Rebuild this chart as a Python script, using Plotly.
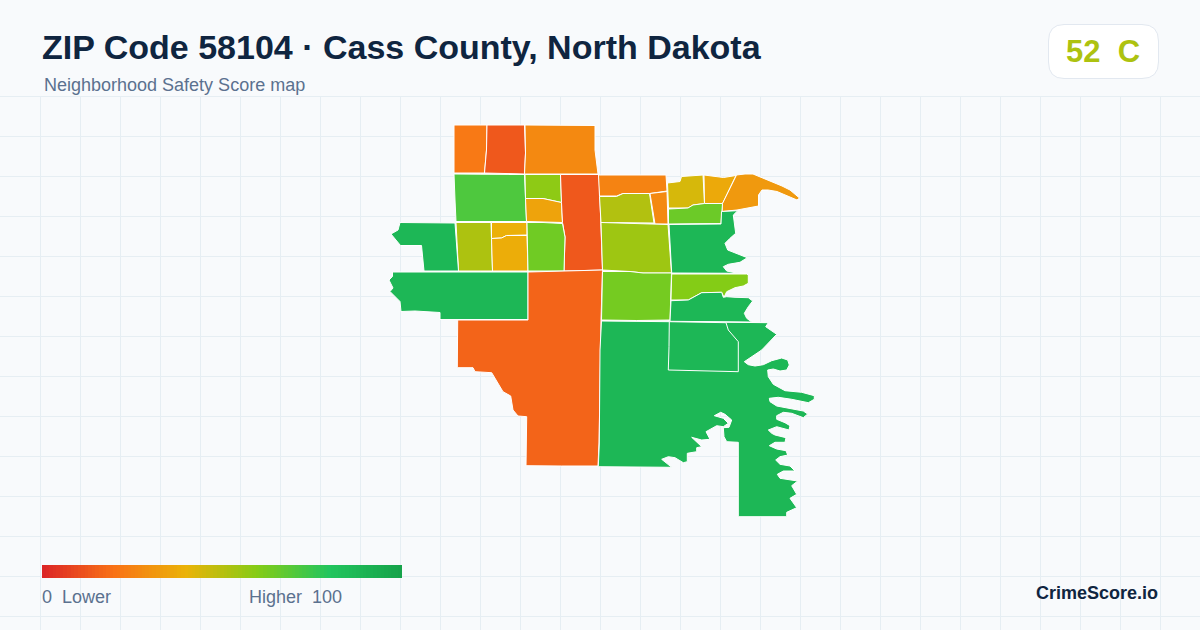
import plotly.graph_objects as go

TITLE = "ZIP Code 58104 · Cass County, North Dakota"
SUBTITLE = "Neighborhood Safety Score map"
OVERALL_SCORE = 52
OVERALL_GRADE = "C"
BRAND = "CrimeScore.io"
LEGEND_LOW = "0  Lower"
LEGEND_HIGH = "Higher  100"

# colour scale of the score, 0..100
SCALE_POS = [0, 20, 40, 60, 80, 100]
SCALE_RGB = [(220, 38, 38), (249, 115, 22), (234, 179, 8), (132, 204, 22), (34, 197, 94), (22, 163, 74)]

# map geometry: block group outlines in map units, with their scores
nw_x = [454, 487, 486.5, 484.5, 454]
nw_y = [125, 125, 150, 173, 173]
nw_score = 22

n2_x = [487, 524.5, 525.5, 524.5, 505, 484.5, 486.5]
n2_y = [125, 125, 153, 174, 173.5, 173, 150]
n2_score = 13

n3_x = [525, 543, 595, 595, 598, 524.5, 525.5]
n3_y = [125, 125, 125.5, 150, 174, 174, 153]
n3_score = 27

w1_x = [454, 524.5, 526.5, 456, 455]
w1_y = [174, 174.5, 221.5, 221.5, 200]
w1_score = 71

c1_x = [525, 560.5, 561.5, 543, 525.5]
c1_y = [174.5, 174.5, 202.5, 198.5, 198.5]
c1_score = 58

c2_x = [525.5, 543, 561.5, 562.5, 526.5]
c2_y = [198.5, 198.5, 202.5, 222.5, 221.5]
c2_score = 35

c3_x = [560.5, 599, 600, 601, 602.5, 585, 564, 565, 562.5, 561.5]
c3_y = [174.5, 174.5, 200, 230, 270, 270.5, 271, 237, 222.5, 202.5]
c3_score = 13

w2_x = [456, 491, 492.5, 458.5]
w2_y = [222.5, 222.5, 271, 271]
w2_score = 52

w3_x = [491.5, 527, 527, 506.5, 501.5, 491.5]
w3_y = [222.5, 222.5, 235, 235.5, 238, 238.5]
w3_score = 39

w4_x = [491.5, 501.5, 506.5, 527, 528, 492.5]
w4_y = [238.5, 238, 235.5, 235.5, 271, 271]
w4_score = 38

w5_x = [527, 543, 562.5, 565, 564, 528]
w5_y = [222.5, 222.5, 223.5, 237, 271, 271]
w5_score = 64

w6_x = [400, 426.5, 455, 458.5, 424, 421.5, 400.5, 391, 398]
w6_y = [222.5, 222.5, 223, 271, 271, 245.5, 245.5, 234, 230]
w6_score = 88

w7_x = [392.5, 528, 528, 440, 440, 415, 401, 400, 390, 393, 389, 392.5]
w7_y = [272, 272, 319.5, 319.5, 312.5, 311, 311.5, 301.5, 291.5, 288, 280, 276.5]
w7_score = 88

s1_x = [528, 583, 602.5, 601, 600.7, 599, 598, 561.7, 526, 526.7, 518, 513, 510.7, 503, 491.7, 475, 473, 457.3, 457.3, 457.7, 528]
s1_y = [272, 271, 270, 320, 350, 443, 466, 466, 465.7, 416.7, 416, 410, 396, 391.7, 372.7, 371.7, 367.7, 367.7, 343, 320, 320]
s1_score = 16

e1_x = [598.5, 666, 667, 650, 623, 616.5, 599.5]
e1_y = [175, 175, 191, 193.5, 193.5, 196, 196]
e1_score = 25

e2_x = [599.5, 616.5, 623, 649.5, 654, 601]
e2_y = [196.5, 196.5, 193.5, 193.5, 223, 222.5]
e2_score = 51

e3_x = [650, 667, 668, 655]
e3_y = [193.5, 191.5, 224, 224]
e3_score = 27

e4_x = [601, 654, 668, 671.5, 643, 630, 602.5]
e4_y = [222.5, 224, 224.5, 273, 273, 271.5, 270]
e4_score = 55

e5_x = [602.5, 630, 643, 671.5, 670, 636.5, 601.5]
e5_y = [271.5, 271.5, 273, 273, 320, 320.5, 320]
e5_score = 63

e6_x = [667.5, 680, 681.5, 703, 704.5, 693, 688, 668.5]
e6_y = [183, 181.5, 176.5, 175, 203.5, 205, 208, 208]
e6_score = 44

e7_x = [704, 723.5, 736, 722.5, 704.5]
e7_y = [175, 177.5, 175.5, 203.5, 203.5]
e7_score = 37

e8_x = [736.5, 745, 753, 763, 773, 782, 790, 799.5, 797, 787, 777, 768, 762, 758.5, 758.5, 737, 722, 722.5]
e8_y = [175, 174, 174, 178, 182, 186, 190, 198, 200, 195.5, 191.5, 190, 190, 195, 206, 210, 211.5, 203.5]
e8_score = 32

e9_x = [668.5, 688, 693, 704.5, 722.5, 721, 668.5]
e9_y = [209, 208, 205, 203.5, 203.5, 223.5, 224]
e9_score = 65

r1_x = [669, 721, 721.5, 737.7, 733.3, 735, 735.7, 730, 725, 727.7, 736.7, 747.3, 740, 728.3, 723.3, 726.7, 735, 746.7, 671.7]
r1_y = [224.5, 224, 211.5, 210.7, 215, 225, 233.3, 238.3, 243.3, 250, 253.3, 257.7, 262.3, 264.3, 266.7, 271, 272.7, 273.3, 273]
r1_score = 88

r2_x = [671.7, 746.7, 748.3, 748.3, 743.3, 735, 726.7, 724, 721.7, 701.7, 688.3, 671]
r2_y = [274, 274, 275, 283.3, 286, 287.7, 291.7, 297.3, 292.3, 292.7, 300, 300]
r2_score = 60

r3_x = [671, 688.3, 701.7, 721.7, 723.3, 726.7, 735, 748.3, 752.7, 748.3, 744.3, 746.7, 751.7, 670]
r3_y = [300.7, 300, 292.7, 292.3, 297.3, 296.7, 297.3, 297.7, 301, 306.7, 313.3, 318.3, 322, 321.3]
r3_score = 88

big_x = [601.5, 751.7, 768.3, 765.7, 776.7, 761.7, 744.3, 748.3, 755, 763.3, 771.7, 781.7, 787.7, 789.3, 786.7, 780, 773.3, 767.7, 768.3, 773.3,
         785, 801.7, 814.3, 814.3, 808.3, 791.7, 778.3, 769.3, 770, 776.7, 793.3, 803.3, 807.7, 803.3, 791.7, 783.3, 776.7, 776.7, 785, 790,
         789, 776.7, 768.3, 771.7, 775, 786, 785, 775, 769.3, 776.7, 786, 787.7, 780, 775.7, 780, 790, 795, 783.3, 777.3, 780,
         797.7, 791.7, 796.7, 790, 796.7, 786.7, 786.7, 738.3, 738.3, 726.7, 724, 723.3, 729, 731.7, 725, 720.7, 714.3, 723.3, 728.3, 723.3,
         716.7, 706, 710, 701.7, 691.7, 701.7, 696.7, 696.7, 687.3, 687.3, 683.3, 675, 668.3, 661.7, 671.7, 639.3, 598.3, 599.3, 600, 600]
big_y = [321, 322.7, 322.7, 326.7, 334.3, 350, 361.7, 364.7, 366, 364.7, 360.7, 358, 360, 365, 370, 371, 369, 370, 376.7, 384.3,
         390.7, 392.3, 395.7, 399.3, 402.7, 399.3, 397.3, 398.3, 401.7, 406, 409, 411, 414, 417.7, 413.3, 412.3, 415.7, 419.3, 422.7, 425.7,
         430, 426.7, 430, 433.3, 435, 437.7, 442.3, 442.3, 445.7, 449, 450.7, 455, 456.7, 460, 464.3, 466, 471, 471, 474.3, 478.3,
         481, 485.7, 494.3, 498.3, 507.7, 512.3, 516.7, 516.7, 442.3, 441.7, 436.7, 427.7, 427.3, 420, 414.3, 412.3, 415.7, 418.3, 423.3, 426.7,
         425.7, 431.7, 439.3, 440, 437.3, 446.7, 447.7, 451.7, 453.3, 461.7, 462.7, 457.7, 456.7, 459.3, 467.3, 467.3, 466.7, 444, 396.7, 350]
big_score = 88

rect_x = [669.3, 726, 728.3, 738.3, 738.3, 703.3, 668.3, 669]
rect_y = [321.7, 322.7, 330, 341.7, 371.7, 370.7, 370, 346.7]
rect_score = 88

REGIONS = [
    (nw_x, nw_y, nw_score), (n2_x, n2_y, n2_score), (n3_x, n3_y, n3_score),
    (w1_x, w1_y, w1_score), (c1_x, c1_y, c1_score), (c2_x, c2_y, c2_score),
    (c3_x, c3_y, c3_score), (w2_x, w2_y, w2_score), (w3_x, w3_y, w3_score),
    (w4_x, w4_y, w4_score), (w5_x, w5_y, w5_score), (w6_x, w6_y, w6_score),
    (w7_x, w7_y, w7_score), (s1_x, s1_y, s1_score), (e1_x, e1_y, e1_score),
    (e2_x, e2_y, e2_score), (e3_x, e3_y, e3_score), (e4_x, e4_y, e4_score),
    (e5_x, e5_y, e5_score), (e6_x, e6_y, e6_score), (e7_x, e7_y, e7_score),
    (e8_x, e8_y, e8_score), (e9_x, e9_y, e9_score), (r1_x, r1_y, r1_score),
    (r2_x, r2_y, r2_score), (r3_x, r3_y, r3_score), (big_x, big_y, big_score),
    (rect_x, rect_y, rect_score),
]

LEGEND_VALUES = list(range(0, 101))


def score_colour(v):
    for i in range(len(SCALE_POS) - 1):
        a, b = SCALE_POS[i], SCALE_POS[i + 1]
        if v <= b:
            t = (v - a) / (b - a)
            c = [round(p + (q - p) * t) for p, q in zip(SCALE_RGB[i], SCALE_RGB[i + 1])]
            return f"rgb({c[0]},{c[1]},{c[2]})"
    return "rgb(%d,%d,%d)" % SCALE_RGB[-1]


BG = "#f8fafc"
GRID = "#e6eef3"
INK = "#0f2540"
MUTED = "#5b718f"
FONT = "Liberation Sans"

fig = go.Figure()
colorscale = [[p / 100, "rgb(%d,%d,%d)" % c] for p, c in zip(SCALE_POS, SCALE_RGB)]

for xs, ys, score in REGIONS:
    fig.add_trace(go.Scatter(
        x=xs + xs[:1], y=ys + ys[:1], mode="lines", fill="toself",
        fillcolor=score_colour(score),
        line=dict(color="#ffffff", width=1),
        hoverinfo="skip", showlegend=False,
    ))

fig.add_trace(go.Heatmap(
    z=[LEGEND_VALUES, LEGEND_VALUES], x0=42 + 360 / 202, dx=360 / 101, y=[568.25, 574.75],
    colorscale=colorscale, zmin=0, zmax=100, showscale=False, hoverinfo="skip",
))


def text(x, y, s, size, color, bold=False, anchor="left"):
    fig.add_annotation(
        x=x, y=y, xref="x", yref="y", text=f"<b>{s}</b>" if bold else s,
        showarrow=False, xanchor=anchor, yanchor="middle",
        font=dict(family=FONT, size=size, color=color), borderpad=0, borderwidth=0,
    )


text(42, 47, TITLE, 34, INK, bold=True)
text(44, 85, SUBTITLE, 18, MUTED)
text(1103, 51, f"{OVERALL_SCORE}  {OVERALL_GRADE}", 31, score_colour(OVERALL_SCORE), bold=True, anchor="center")
text(42, 597, LEGEND_LOW, 18, MUTED)
text(249, 597, LEGEND_HIGH, 18, MUTED)
text(1158, 592.5, BRAND, 18, INK, bold=True, anchor="right")

fig.update_layout(
    width=1200, height=630, margin=dict(l=0, r=0, t=0, b=0),
    paper_bgcolor=BG, plot_bgcolor=BG, showlegend=False,
    xaxis=dict(range=[0, 1200], showgrid=True, gridcolor=GRID, gridwidth=1, tick0=0, dtick=40,
               zeroline=False, showticklabels=False, ticks="", fixedrange=True),
    yaxis=dict(range=[630, 0], showgrid=True, gridcolor=GRID, gridwidth=1, tick0=96.5, dtick=40,
               zeroline=False, showticklabels=False, ticks="", fixedrange=True),
    shapes=[
        dict(type="rect", xref="x", yref="y", x0=0, x1=1200, y0=0, y1=96, fillcolor=BG,
             line=dict(width=0), layer="between"),
        dict(type="path", xref="x", yref="y",
             path="M 1064 24.5 L 1142 24.5 Q 1158.5 24.5 1158.5 41 L 1158.5 62 Q 1158.5 78.5 1142 78.5 "
                  "L 1064 78.5 Q 1048.5 78.5 1048.5 62 L 1048.5 41 Q 1048.5 24.5 1064 24.5 Z",
             fillcolor="#ffffff", line=dict(color="#e2e8f0", width=1), layer="between"),
    ],
)

fig.write_html("out.html", config={"displayModeBar": False},
               post_script="document.body.style.margin='0';document.documentElement.style.overflow='hidden';")
